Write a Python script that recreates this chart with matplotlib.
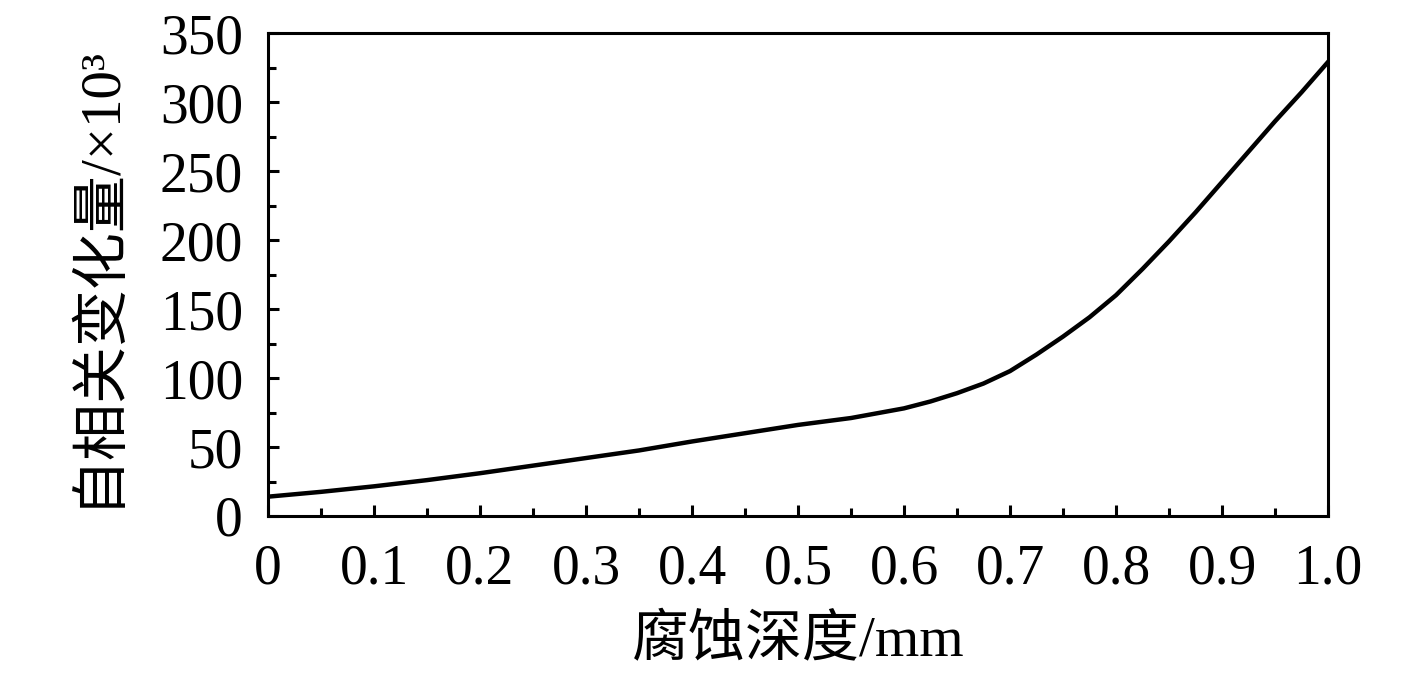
import numpy as np
import matplotlib
matplotlib.use("Agg")
import matplotlib.pyplot as plt
from matplotlib.ticker import MultipleLocator

plt.rcParams['font.family'] = ['Liberation Serif', 'Noto Sans CJK SC']

# data
depth = [0.0, 0.05, 0.1, 0.15, 0.2, 0.25, 0.3, 0.35, 0.4, 0.45, 0.5,
         0.55, 0.6, 0.625, 0.65, 0.675, 0.7, 0.725, 0.75, 0.775, 0.8,
         0.825, 0.85, 0.875, 0.9, 0.925, 0.95, 0.975, 1.0]
autocorr = [14, 17.5, 21.5, 26, 31, 36.5, 42, 47.5, 54, 60, 66,
            71, 78, 83, 89, 96, 105, 117, 130, 144, 160,
            179, 199, 220, 242, 264, 286, 307, 329]

fig = plt.figure(figsize=(14.17, 6.75), dpi=100)
ax = fig.add_axes([268 / 1417, 1 - 516 / 675, 1060 / 1417, 483 / 675])

ax.plot(depth, autocorr, color='black', lw=3.2, solid_joinstyle='round')

ax.set_xlim(0, 1.0)
ax.set_ylim(0, 350)
ax.set_xticks(np.arange(0, 1.01, 0.1))
ax.set_xticklabels(['0'] + ['%.1f' % v for v in np.arange(0.1, 1.01, 0.1)])
ax.xaxis.set_minor_locator(MultipleLocator(0.05))
ax.yaxis.set_major_locator(MultipleLocator(50))
ax.yaxis.set_minor_locator(MultipleLocator(25))

ax.tick_params(which='both', direction='in', top=False, right=False,
               width=2.2, labelsize=40)
ax.tick_params(axis='x', pad=20)
ax.tick_params(axis='y', pad=18)
ax.tick_params(which='major', length=8)
ax.tick_params(which='minor', length=6)
for s in ax.spines.values():
    s.set_linewidth(2.2)

ax.set_xlabel('腐蚀深度/mm', fontsize=41, labelpad=14)
ax.set_ylabel('自相关变化量/×10³', fontsize=41, labelpad=26)

fig.savefig('out.png', dpi=100)
